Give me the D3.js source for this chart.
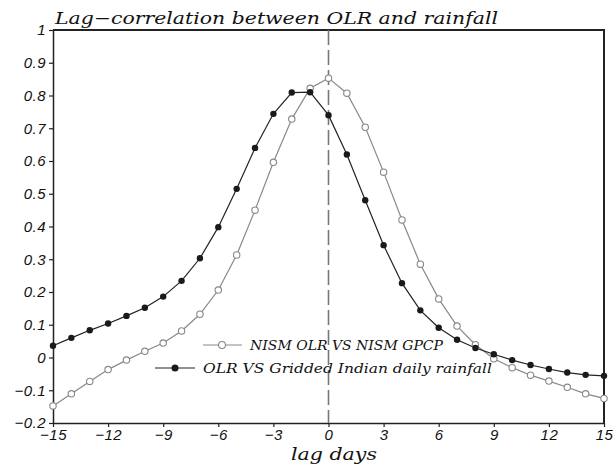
<!DOCTYPE html>
<html>
<head>
<meta charset="utf-8">
<script src="https://cdn.jsdelivr.net/npm/d3@7"></script>
<style>
  body { margin: 0; background: #fff; }
  svg { display: block; }
</style>
</head>
<body>
<script>
// lag axis and the two correlation series
var lagDays = d3.range(-15, 16);
var nismGpcp = [-0.148, -0.111, -0.073, -0.037, -0.008, 0.019, 0.044, 0.081, 0.132, 0.206,
  0.313, 0.450, 0.596, 0.728, 0.822, 0.853, 0.807, 0.703, 0.566, 0.420,
  0.285, 0.179, 0.096, 0.039, -0.004, -0.031, -0.054, -0.072, -0.091, -0.111, -0.125];
var griddedRain = [0.036, 0.060, 0.083, 0.104, 0.127, 0.152, 0.186, 0.234, 0.303, 0.398,
  0.515, 0.640, 0.744, 0.809, 0.810, 0.740, 0.620, 0.480, 0.343, 0.227,
  0.144, 0.091, 0.054, 0.029, 0.010, -0.008, -0.023, -0.035, -0.046, -0.053, -0.056];
var xTicks = [-15, -12, -9, -6, -3, 0, 3, 6, 9, 12, 15];
var yTicks = [-0.2, -0.1, 0, 0.1, 0.2, 0.3, 0.4, 0.5, 0.6, 0.7, 0.8, 0.9, 1];
var legendLabels = ["NISM OLR VS NISM GPCP", "OLR VS Gridded Indian daily rainfall"];

var W = 613, H = 465;
var margin = {top: 30, right: 9, bottom: 42, left: 53};
var w = W - margin.left - margin.right;
var h = H - margin.top - margin.bottom;

var svg = d3.select("body").append("svg")
  .attr("width", W).attr("height", H);

var x = d3.scaleLinear().domain([-15, 15]).range([0, w]);
var y = d3.scaleLinear().domain([-0.2, 1]).range([h, 0]);

var g = svg.append("g")
  .attr("transform", "translate(" + margin.left + "," + margin.top + ")");

function fmt(v) {
  return String(Math.round(v * 10) / 10).replace("-", "\u2212");
}

var tickFont = "'Liberation Sans', Arial, sans-serif";
var serifFont = "'DejaVu Serif', serif";

// axes
var xAxis = g.append("g").attr("transform", "translate(0," + h + ")")
  .call(d3.axisBottom(x).tickValues(xTicks).tickSize(4).tickSizeOuter(0).tickFormat(fmt));
var yAxis = g.append("g")
  .call(d3.axisLeft(y).tickValues(yTicks).tickSize(4).tickSizeOuter(0).tickFormat(fmt));

[xAxis, yAxis].forEach(function(a) {
  a.select(".domain").attr("stroke", "#222").attr("stroke-width", 1.5);
  a.selectAll(".tick line").attr("stroke", "#222").attr("stroke-width", 1.2);
  a.selectAll(".tick text")
    .attr("fill", "#111")
    .style("font-family", tickFont)
    .style("font-style", "italic")
    .style("font-size", "15px")
    .style("letter-spacing", "0.5px");
});
xAxis.selectAll(".tick text").attr("y", 6);
yAxis.selectAll(".tick text").attr("x", -7);

// frame top and right
g.append("path")
  .attr("d", "M0,0H" + w + "V" + h)
  .attr("fill", "none").attr("stroke", "#222").attr("stroke-width", 2);

// zero-lag dashed line
g.append("line")
  .attr("x1", x(0)).attr("x2", x(0)).attr("y1", 0).attr("y2", h)
  .attr("stroke", "#777").attr("stroke-width", 1.6)
  .attr("stroke-dasharray", "15,5");

var line = d3.line()
  .x(function(d) { return x(d[0]); })
  .y(function(d) { return y(d[1]); });

var grayPts = lagDays.map(function(d, i) { return [d, nismGpcp[i]]; });
var blackPts = lagDays.map(function(d, i) { return [d, griddedRain[i]]; });

g.append("path").datum(grayPts).attr("d", line)
  .attr("fill", "none").attr("stroke", "#888").attr("stroke-width", 1.2);
g.append("path").datum(blackPts).attr("d", line)
  .attr("fill", "none").attr("stroke", "#222").attr("stroke-width", 1.2);

g.selectAll(".open").data(grayPts).enter().append("circle")
  .attr("class", "open")
  .attr("cx", function(d) { return x(d[0]); })
  .attr("cy", function(d) { return y(d[1]); })
  .attr("r", 3.2)
  .attr("fill", "#fff").attr("stroke", "#888").attr("stroke-width", 1.1);
g.selectAll(".dot").data(blackPts).enter().append("circle")
  .attr("class", "dot")
  .attr("cx", function(d) { return x(d[0]); })
  .attr("cy", function(d) { return y(d[1]); })
  .attr("r", 3.2)
  .attr("fill", "#1a1a1a");

// legend
var leg1 = svg.append("g");
leg1.append("line").attr("x1", 203).attr("x2", 242).attr("y1", 345).attr("y2", 345)
  .attr("stroke", "#888").attr("stroke-width", 1.2);
leg1.append("circle").attr("cx", 222).attr("cy", 345).attr("r", 3.5)
  .attr("fill", "#fff").attr("stroke", "#888").attr("stroke-width", 1.1);
leg1.append("text").attr("x", 250).attr("y", 350)
  .attr("textLength", 193).attr("lengthAdjust", "spacingAndGlyphs")
  .style("font-family", serifFont).style("font-style", "italic").style("font-size", "13px")
  .attr("fill", "#111").text(legendLabels[0]);

var leg2 = svg.append("g");
leg2.append("line").attr("x1", 155).attr("x2", 195).attr("y1", 368).attr("y2", 368)
  .attr("stroke", "#222").attr("stroke-width", 1.2);
leg2.append("circle").attr("cx", 175).attr("cy", 368).attr("r", 3.5).attr("fill", "#1a1a1a");
leg2.append("text").attr("x", 203).attr("y", 373)
  .attr("textLength", 289).attr("lengthAdjust", "spacingAndGlyphs")
  .style("font-family", serifFont).style("font-style", "italic").style("font-size", "13px")
  .attr("fill", "#111").text(legendLabels[1]);

// title and axis label
svg.append("text").attr("x", 55).attr("y", 24)
  .attr("textLength", 443).attr("lengthAdjust", "spacingAndGlyphs")
  .style("font-family", serifFont).style("font-style", "italic").style("font-size", "17px")
  .attr("fill", "#111").text("Lag\u2212correlation between OLR and rainfall");

svg.append("text").attr("x", 291).attr("y", 460)
  .attr("textLength", 86).attr("lengthAdjust", "spacingAndGlyphs")
  .style("font-family", serifFont).style("font-style", "italic").style("font-size", "16px")
  .attr("fill", "#111").text("lag days");
</script>
</body>
</html>
